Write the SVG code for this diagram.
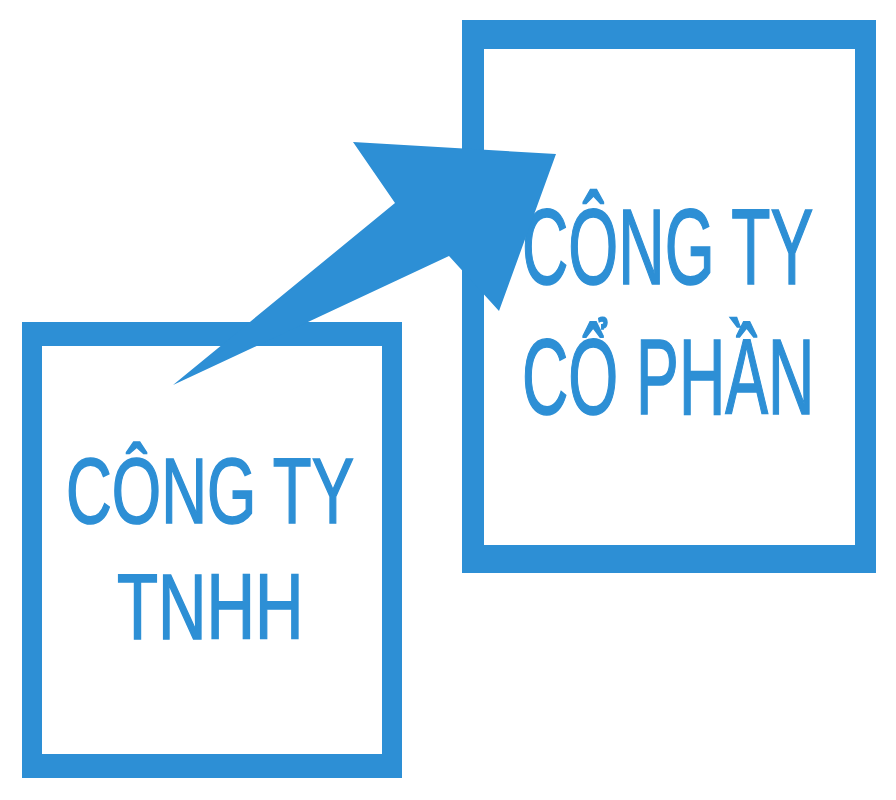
<svg xmlns="http://www.w3.org/2000/svg" width="896" height="800" viewBox="0 0 896 800">
  <style>
    .frame { fill: #2D8FD5; fill-rule: evenodd; }
    .lbl { fill: #2D8FD5; stroke: #2D8FD5; stroke-width: 1.6; font-family: "Liberation Sans", "DejaVu Sans", sans-serif; }
    .arrow { fill: #2D8FD5; }
  </style>
  <rect width="896" height="800" fill="#FFFFFF"/>
  <g id="node-tnhh">
    <path class="frame" d="M22 322 H402 V778 H22 Z M42 346 V754 H382 V346 Z"/>
    <text class="lbl" transform="translate(66,523) scale(0.69,1)" font-size="92">CÔNG TY</text>
    <text class="lbl" transform="translate(117,639) scale(0.73,1)" font-size="92">TNHH</text>
  </g>
  <g id="node-cophan">
    <path class="frame" d="M462 20 H876 V573 H462 Z M484 49 V545 H855 V49 Z"/>
    <text class="lbl" transform="translate(522,284) scale(0.60,1)" font-size="107">CÔNG TY</text>
    <text class="lbl" transform="translate(522,414) scale(0.60,1)" font-size="107">CỔ PHẦN</text>
  </g>
  <g id="connectors">
    <polygon class="arrow" points="173,385 395,203 353,142 556,154 499,311 449,256"/>
  </g>
</svg>
